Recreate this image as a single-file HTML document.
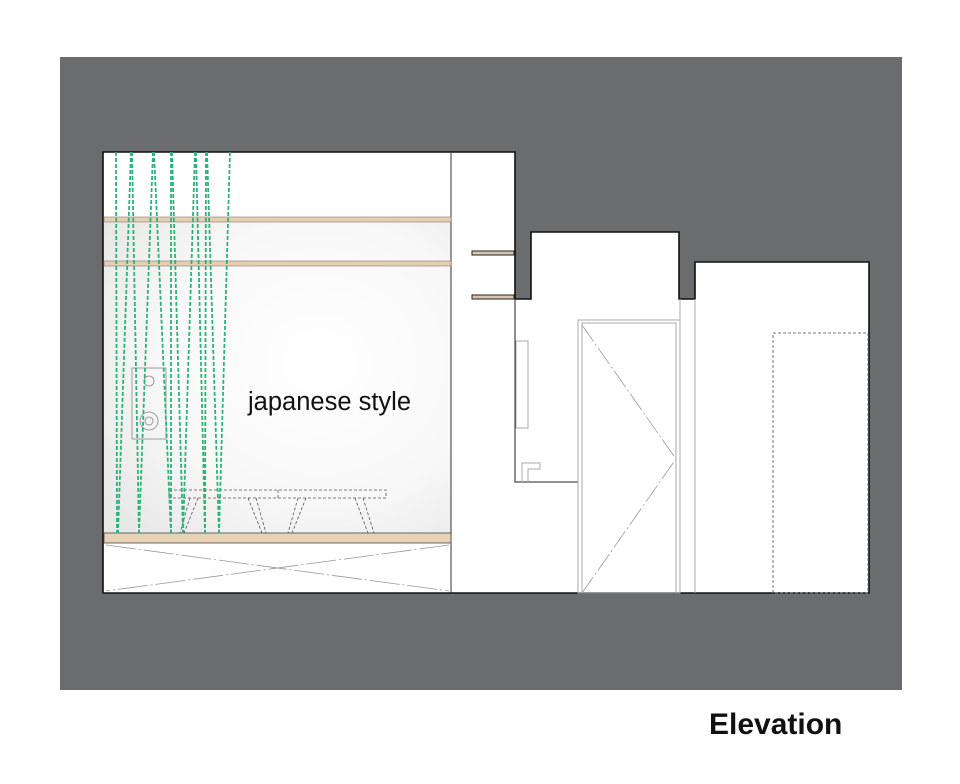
<!DOCTYPE html>
<html><head><meta charset="utf-8"><style>
html,body{margin:0;padding:0;background:#fff;}
svg{display:block;}
</style></head><body>
<svg width="960" height="784" viewBox="0 0 960 784" xmlns="http://www.w3.org/2000/svg">
<defs>
<radialGradient id="g" cx="0.62" cy="0.45" r="0.75">
<stop offset="0" stop-color="#ffffff"/>
<stop offset="0.6" stop-color="#f8f8f8"/>
<stop offset="1" stop-color="#e8e8e8"/>
</radialGradient>
</defs>
<rect x="60" y="57" width="842" height="633" fill="#6b6c6e"/>
<path d="M103 152 H515 V299 H531 V232 H679 V299 H695 V262 H869 V593 H103 Z" fill="#fff" stroke="#111" stroke-width="1.6"/>
<rect x="104" y="222" width="347" height="311" fill="url(#g)"/>
<line x1="451" y1="152" x2="451" y2="593" stroke="#333" stroke-width="1"/>
<rect x="104" y="217" width="347" height="5" fill="#e2cfb4" stroke="#8a7a66" stroke-width="0.6"/>
<rect x="104" y="261" width="347" height="5" fill="#e2cfb4" stroke="#8a7a66" stroke-width="0.6"/>
<rect x="104" y="533" width="347" height="10" fill="#e8d3b6" stroke="#444" stroke-width="0.8"/>
<rect x="472" y="251" width="42" height="4" fill="#d8c6ac" stroke="#222" stroke-width="1"/>
<rect x="472" y="295" width="42" height="4" fill="#d8c6ac" stroke="#222" stroke-width="1"/>
<g stroke="#999" stroke-width="0.8" stroke-dasharray="30 3 2 3" fill="none">
<line x1="106" y1="545" x2="449" y2="591"/>
<line x1="449" y1="545" x2="106" y2="591"/>
</g>
<rect x="132" y="368" width="34" height="71" fill="none" stroke="#888" stroke-width="0.8"/>
<circle cx="149" cy="381" r="5" fill="none" stroke="#888" stroke-width="0.8"/>
<circle cx="149" cy="421" r="9" fill="none" stroke="#888" stroke-width="0.8"/>
<circle cx="149" cy="421" r="4" fill="none" stroke="#888" stroke-width="0.8"/>
<g stroke="#555" stroke-width="0.8" stroke-dasharray="3 2" fill="none">
<rect x="169" y="490" width="217" height="8"/>
<line x1="190" y1="498" x2="180" y2="533"/><line x1="198" y1="498" x2="184" y2="533"/>
<line x1="248" y1="498" x2="262" y2="533"/><line x1="256" y1="498" x2="266" y2="533"/>
<line x1="298" y1="498" x2="288" y2="533"/><line x1="306" y1="498" x2="292" y2="533"/>
<line x1="355" y1="498" x2="368" y2="533"/><line x1="363" y1="498" x2="374" y2="533"/>
<line x1="278" y1="490" x2="278" y2="498"/>
</g>
<g stroke="#2bb27a" stroke-width="1.8" stroke-dasharray="4 2" fill="none">
<line x1="116" y1="152" x2="117" y2="533"/>
<line x1="132" y1="152" x2="139" y2="533"/>
<line x1="131" y1="152" x2="118" y2="533"/>
<line x1="153" y1="152" x2="139" y2="533"/>
<line x1="154" y1="152" x2="171" y2="533"/>
<line x1="171" y1="152" x2="171" y2="533"/>
<line x1="172" y1="152" x2="183" y2="533"/>
<line x1="195" y1="152" x2="183" y2="533"/>
<line x1="196" y1="152" x2="205" y2="533"/>
<line x1="206" y1="152" x2="205" y2="533"/>
<line x1="207" y1="152" x2="219" y2="533"/>
<line x1="230" y1="152" x2="219" y2="533"/>
</g>
<text x="248" y="410" font-family="Liberation Sans, sans-serif" font-size="25.5" fill="#111">japanese style</text>
<g fill="none" stroke="#222" stroke-width="1">
<polyline points="515,299 515,482 578,482 578,593"/>
</g>
<g fill="none" stroke="#aaa" stroke-width="1">
<rect x="578" y="320" width="102" height="273"/>
<rect x="582" y="323" width="94" height="270"/>
<line x1="695" y1="299" x2="695" y2="593"/>
<line x1="680" y1="299" x2="680" y2="320"/>
<rect x="516" y="341" width="12" height="87"/>
<polyline points="522,482 522,463 540,463 540,469 528,469 528,482"/>
</g>
<polyline points="582,325 676,459 582,593" fill="none" stroke="#999" stroke-width="0.8" stroke-dasharray="20 3 2 3"/>
<rect x="773" y="333" width="95" height="260" fill="none" stroke="#777" stroke-width="1" stroke-dasharray="3 2"/>
<text x="709" y="734" font-family="Liberation Sans, sans-serif" font-size="30" font-weight="bold" fill="#111">Elevation</text>
</svg>
</body></html>
